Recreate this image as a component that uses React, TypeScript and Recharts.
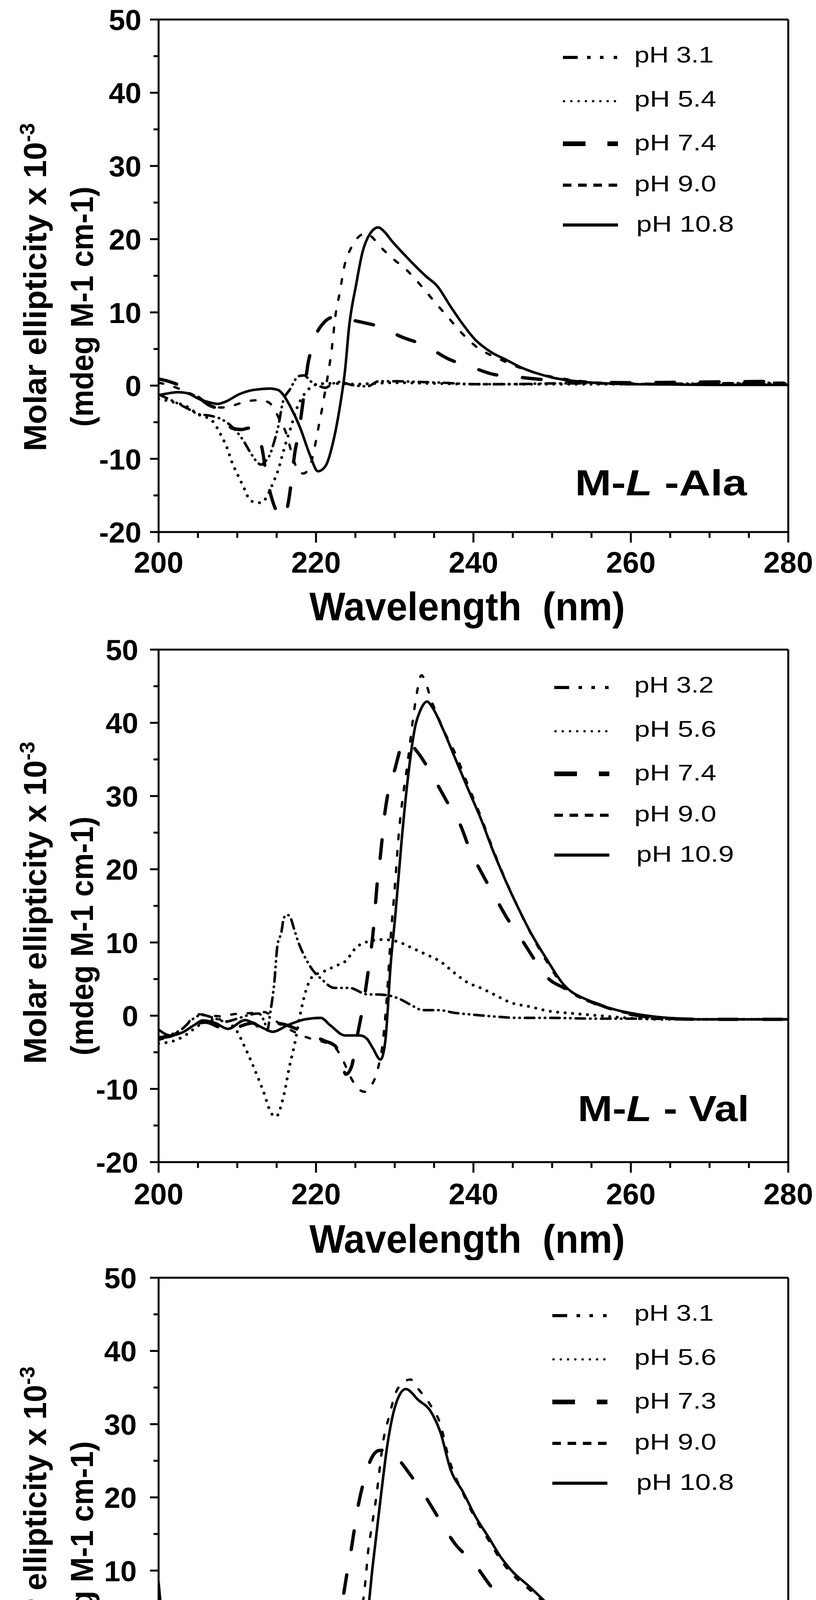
import React from 'react';
import { LineChart, Line, XAxis, YAxis, ReferenceLine } from 'recharts';

type Pt = [number, number];

// ---------- axis ticks ----------
const WAVELENGTH_TICKS = [200, 205, 210, 215, 220, 225, 230, 235, 240, 245, 250, 255, 260, 265, 270, 275, 280];
const WAVELENGTH_LABELS = [200, 220, 240, 260, 280];
const ELLIPTICITY_TICKS = [-20, -15, -10, -5, 0, 5, 10, 15, 20, 25, 30, 35, 40, 45, 50];
const ELLIPTICITY_LABELS = [-20, -10, 0, 10, 20, 30, 40, 50];

// ---------- M-L-Ala ----------
const ALA_LABELS = ['pH 3.1', 'pH 5.4', 'pH 7.4', 'pH 9.0', 'pH 10.8'];
const ALA_PH31: Pt[] = [[200,-1.2],[202,-2.2],[203.8,-3.2],[205.1,-3.9],[206.5,-4.1],[208,-4.6],[209.5,-5.8],[210.7,-7.4],[211.7,-9.2],[212.4,-10.3],[213,-10.8],[213.6,-10.3],[214.2,-9.3],[214.7,-7.6],[215.2,-5.6],[215.8,-2.2],[216.7,-0.5],[217.8,1.3],[218.5,1.4],[219.3,0.6],[220.3,0.0],[221.2,-0.3],[222,0.2],[223,0.5],[224.5,0.1],[226.5,-0.1],[228,0.6],[230,0.6],[233,0.5],[236,0.4],[240,0.2],[245,0.2],[250,0.3],[255,0.3],[260,0.2],[270,0.3],[280,0.4]];
const ALA_PH54: Pt[] = [[200,-1.8],[202,-2.3],[203.5,-2.8],[205,-3.9],[206.8,-4.8],[207.4,-5.7],[207.9,-6.7],[208.7,-8.5],[209.3,-10.4],[210.1,-12.3],[210.9,-14.1],[211.3,-15.1],[212.1,-15.9],[213,-16.0],[213.75,-15.2],[214.5,-13.4],[215.2,-11.5],[215.7,-9.6],[216.2,-7.7],[216.75,-5.9],[217.6,-3.0],[218.5,-1.2],[219.25,-0.3],[220.25,0.2],[222,0.3],[225,0.2],[230,0.4],[235,0.3],[240,0.2],[250,0.2],[260,0.2],[270,0.2],[280,0.3]];
const ALA_PH74: Pt[] = [[200,0.9],[201.5,0.5],[203.3,-0.3],[204.7,-1.3],[206.3,-2.6],[207.7,-3.4],[208.5,-4.6],[209.3,-5.8],[210.5,-6.0],[211.5,-5.8],[212.5,-6.2],[213.2,-8.9],[213.7,-12.3],[214.3,-15.1],[215,-17.2],[215.7,-18.1],[216.2,-17.3],[216.6,-15.2],[217,-11.8],[217.3,-9.2],[217.7,-7.0],[218,-5.0],[218.3,-2.6],[218.7,0.8],[219,3.1],[219.4,4.8],[220,6.9],[221,8.6],[222.2,9.4],[223,9.5],[224,9.1],[225.2,8.8],[227.9,8.1],[231,6.6],[233.8,5.5],[236.9,3.6],[239.6,2.6],[242.7,1.5],[244.5,1.3],[248,0.9],[252,0.6],[256,0.45],[260,0.4],[270,0.5],[280,0.6]];
const ALA_PH90: Pt[] = [[200,0.4],[201.5,0.0],[203,-0.6],[205,-1.6],[206.5,-2.6],[208,-3.0],[209.5,-2.7],[211,-2.2],[212.5,-2.0],[213.8,-2.2],[214.6,-3.0],[215.3,-4.5],[216.3,-6.8],[216.8,-8.8],[217.3,-10.6],[217.8,-11.8],[218.4,-12.0],[219,-11.5],[219.6,-9.6],[220,-7.5],[220.4,-5.2],[220.8,-3.0],[221.2,-0.5],[221.6,2.0],[222,5.0],[222.5,9.8],[223,12.6],[223.6,16.3],[224.5,18.9],[225.5,20.4],[226.3,20.8],[227.2,20.2],[227.9,19.3],[229.6,17.5],[231.6,15.7],[233.3,13.7],[235.1,11.4],[236.8,9.3],[238.5,7.2],[240.5,5.2],[242.5,4.0],[244.2,3.2],[246,2.4],[248,1.7],[250,1.2],[253,0.7],[256,0.4],[260,0.3],[270,0.2],[280,0.2]];
const ALA_PH108: Pt[] = [[200,-1.3],[201,-1.1],[202.4,-0.9],[203.5,-1.0],[205.3,-1.9],[206.5,-2.3],[207.5,-2.5],[208.5,-2.2],[210.2,-1.2],[212,-0.6],[214.2,-0.4],[215.2,-0.6],[215.8,-1.2],[216.8,-3.0],[218,-5.8],[219.2,-9.4],[220.25,-11.7],[221.2,-11.0],[222.2,-7.6],[223,-3.1],[223.7,2.2],[224.2,8.0],[225.1,13.8],[225.9,18.2],[226.9,20.8],[227.9,21.6],[228.7,21.0],[229.6,19.8],[231.3,17.8],[233.9,15.0],[235.4,13.6],[237.1,10.8],[238.5,8.6],[240.2,6.3],[242.2,4.6],[244.2,3.5],[246,2.5],[248,1.7],[250,1.1],[253,0.6],[256,0.35],[260,0.2],[265,0.15],[270,0.1],[275,0.1],[280,0.1]];

// ---------- M-L-Val ----------
const VAL_LABELS = ['pH 3.2', 'pH 5.6', 'pH 7.4', 'pH 9.0', 'pH 10.9'];
const VAL_PH32: Pt[] = [[200,-3.0],[201.5,-2.6],[203,-1.8],[204.3,-0.5],[205.5,0.1],[207,-0.3],[208.5,-0.8],[210,-0.4],[211.5,0.1],[212.7,0.3],[213.5,-1.0],[213.8,-2.0],[214.2,0.5],[214.7,4.5],[215.1,9.6],[215.6,11.4],[215.9,13.3],[216.3,13.8],[216.7,13.5],[217.2,11.9],[217.7,10.2],[218.5,8.2],[219.6,6.2],[220.7,5.0],[222.3,3.8],[224.2,3.8],[226.6,2.9],[227.5,2.9],[229,2.8],[230.7,2.25],[232,1.5],[233.6,0.75],[235.7,0.75],[237.5,0.4],[239.3,0.2],[242.5,-0.1],[245.7,-0.3],[250,-0.3],[255,-0.4],[260,-0.4],[270,-0.5],[280,-0.5]];
const VAL_PH56: Pt[] = [[200,-3.8],[202.3,-3.3],[203.5,-2.6],[205,-1.4],[206.5,-0.6],[207.6,-0.5],[209.6,-1.6],[211,-4.4],[212.3,-7.6],[213.3,-10.3],[214.3,-13.3],[214.9,-13.8],[215.9,-10.9],[216.6,-7.1],[217.3,-3.8],[218,0.2],[218.6,3.0],[219.6,5.4],[220.9,6.0],[222.5,6.8],[223.8,7.5],[225,9.2],[226.9,10.2],[228.5,10.4],[230.4,10.1],[232.3,9.2],[233.9,8.4],[235.8,7.4],[237.4,6.0],[239.3,4.5],[240.9,3.8],[242.8,2.8],[244.7,1.8],[247.3,1.2],[249.2,0.7],[252.8,0.3],[256,0.0],[259.4,-0.3],[264.7,-0.5],[270,-0.5],[280,-0.5]];
const VAL_PH74: Pt[] = [[200,-3.0],[201.5,-2.8],[203,-2.0],[204.5,-1.2],[206,-0.9],[207.5,-1.5],[209,-2.3],[210.5,-1.4],[212,-1.0],[213.3,-2.0],[214.5,-1.0],[216,-1.2],[217.5,-1.8],[219.5,-2.7],[221,-3.4],[222.5,-4.2],[223.2,-6.3],[223.8,-8.0],[224.5,-7.0],[225.2,-3.0],[226,1.5],[226.6,5.8],[227.3,11.9],[227.8,18.4],[228.2,22.0],[228.7,27.3],[229.2,30.7],[230,33.6],[231,37.1],[231.7,37.5],[232.3,36.8],[233.3,35.4],[235.2,32.0],[236.6,29.3],[238.4,25.9],[239.5,22.8],[241.1,19.4],[242.5,16.7],[244.4,13.1],[246,10.6],[248.3,6.8],[249.5,5.1],[251.5,3.8],[254,2.3],[256,1.5],[258,0.7],[261,0.0],[265,-0.4],[270,-0.5],[280,-0.5]];
const VAL_PH90: Pt[] = [[200,-3.3],[201.5,-2.8],[203,-2.0],[204.3,-0.3],[205.1,0.2],[206.8,0.0],[208.2,-0.1],[209.5,0.2],[211,0.3],[212.3,0.4],[213.3,0.5],[214.2,0.1],[215.2,-1.0],[216.5,-1.8],[218,-2.6],[219.5,-3.2],[221,-3.6],[222.3,-4.2],[223.3,-5.8],[224.3,-8.2],[225.3,-9.9],[226.2,-10.4],[227,-9.6],[227.8,-7.5],[228.5,-3.5],[229,2.5],[229.5,10.9],[230,17.4],[230.5,24.6],[231.3,32.0],[231.6,34.2],[232.2,39.5],[232.8,44.0],[233.4,46.5],[234,45.3],[234.6,43.2],[235.2,41.6],[236.3,38.8],[237.7,35.8],[239.3,31.5],[240.9,27.3],[242.5,22.7],[244.1,18.5],[245.7,14.7],[247.3,11.2],[249.2,7.6],[251.5,4.0],[254.8,1.9],[258.1,0.7],[261.4,0.0],[264.7,-0.3],[270,-0.5],[280,-0.5]];
const VAL_PH109: Pt[] = [[200,-1.9],[201.5,-2.7],[203,-2.3],[204.5,-1.3],[205.6,-0.65],[207.2,-1.0],[208.8,-1.8],[211,-0.6],[212.3,-1.15],[213.5,-1.8],[214.5,-2.2],[216.4,-1.3],[218.6,-0.5],[220.6,-0.3],[221.8,-1.3],[223.7,-2.7],[225.6,-2.7],[226.5,-3.2],[227.2,-4.4],[228.2,-6.0],[228.8,-3.5],[229.5,7.2],[230.1,14.0],[230.9,24.2],[231.7,32.7],[232.6,39.5],[233.3,41.8],[234.1,42.9],[234.9,41.9],[236.1,39.2],[237.7,35.1],[239.3,31.0],[240.9,27.0],[242.5,22.5],[244.1,18.4],[245.7,14.7],[247.3,11.3],[249.2,7.9],[251.5,4.2],[254.8,2.0],[258.1,0.8],[261.4,0.1],[264.7,-0.3],[269.4,-0.5],[275,-0.5],[280,-0.5]];

// ---------- M-L-Leu ----------
const LEU_LABELS = ['pH 3.1', 'pH 5.6', 'pH 7.3', 'pH 9.0', 'pH 10.8'];
const LEU_PH31: Pt[] = [[200,-1.6],[201,-1.7],[202.5,-2.5],[204,-2.0],[206,-1.0],[207.5,-1.5],[209,-2.6],[210,-5.9],[210.7,-7.1],[211.6,-9.9],[212.3,-12.7],[213.2,-14.6],[214.3,-15.4],[215,-14.6],[215.5,-12.9],[216.1,-10.8],[216.7,-8.0],[217.4,-5.6],[217.7,-4.4],[218.3,-3.0],[219,-1.7],[219.9,-0.6],[220.7,0.2],[222,0.4],[224,0.8],[226,1.1],[227.2,1.4],[228.8,1.6],[230.7,1.1],[232.3,0.65],[233.9,0.5],[235.5,0.3],[238.7,0.2],[241,0.0],[244,-0.1],[246,-0.1],[250,-0.2],[255,-0.3],[260,-0.4],[265,-0.6],[270,-0.7],[275,-0.8],[280,-0.8]];
const LEU_PH56: Pt[] = [[200,-3.2],[201,-3.2],[202.5,-2.8],[204,-2.2],[205.5,-1.8],[206.9,-1.65],[208.1,-2.6],[209.1,-3.5],[210.4,-3.9],[211.6,-4.4],[212.9,-4.85],[214.2,-5.0],[215.5,-4.7],[216.7,-3.8],[218,-2.6],[219.3,-1.0],[220.6,1.1],[221.8,2.3],[223.1,2.9],[225,3.1],[227.5,2.8],[230.1,2.6],[233,2.2],[236.1,1.4],[239.3,0.8],[242.5,0.35],[245.7,0.2],[249.2,-0.1],[255,-0.2],[260,-0.2],[270,-0.4],[280,-0.5]];
const LEU_PH73: Pt[] = [[200,4.0],[200.8,-0.5],[201.5,-1.7],[202.5,-2.8],[203.5,-3.3],[204.5,-3.0],[205.3,-3.3],[207.2,-2.2],[208.5,-1.8],[210,-1.0],[212,-0.4],[213.5,-1.0],[214.5,-1.7],[215.5,-4.5],[216.3,-6.2],[217.1,-7.8],[218.5,-8.8],[219.9,-9.3],[220.9,-7.1],[221.7,-3.2],[222.3,-0.1],[223,2.9],[223.4,6.0],[223.9,9.4],[224.4,12.4],[224.9,15.8],[225.3,18.5],[226,21.9],[226.9,25.0],[228,26.4],[229.4,26.5],[230.5,25.2],[231.7,23.5],[233.9,20.1],[235.5,17.3],[237.7,13.6],[240,11.1],[242.5,7.5],[245.1,5.2],[248.2,3.25],[249.4,2.5],[251,1.8],[254.3,0.9],[257,0.1],[260,-0.2],[265,-0.3],[270,-0.4],[280,-0.5]];
const LEU_PH90: Pt[] = [[200,5.0],[200.8,0.5],[201.5,-1.0],[203,-2.9],[203.7,-3.5],[204.9,-1.3],[205.4,-0.9],[206.5,-1.2],[208,-1.8],[210,-1.0],[212,-0.4],[213.5,-1.0],[215,-1.8],[216.5,-2.0],[218,-2.2],[219.2,-3.0],[220.3,-5.6],[220.6,-6.9],[221.5,-9.6],[221.8,-10.8],[222.8,-11.4],[223.3,-10.5],[224,-7.8],[224.4,-5.9],[224.9,-3.5],[225.3,0.2],[225.9,5.1],[226.3,8.8],[226.6,12.4],[227.1,16.1],[227.7,20.4],[228.1,24.0],[228.5,27.4],[229.3,31.1],[230.1,34.2],[231,35.6],[232,36.1],[233,34.8],[234.6,32.5],[235.8,30.0],[236.8,25.6],[238.7,20.5],[240.3,17.0],[241.9,14.2],[243.5,11.4],[245.1,9.3],[246.7,7.8],[248.6,6.0],[250.3,4.2],[253,2.5],[256.3,1.1],[259.6,0.4],[263.6,0.1],[270,0.0],[280,-0.1]];
const LEU_PH108: Pt[] = [[200,8.4],[200.5,2.9],[201.5,-1.65],[202.7,-4.7],[203.5,-4.6],[204.3,-4.1],[205.9,-2.9],[207.8,-1.95],[209.1,-1.65],[210.7,-0.7],[212,-0.3],[213.2,-0.7],[214.5,-1.65],[216.1,-2.9],[217.7,-2.4],[219,-1.3],[219.9,-1.8],[220.7,-4.1],[221.8,-4.4],[223.1,-5.0],[224.4,-5.5],[225.3,-4.7],[225.8,-2.0],[226.3,1.4],[227.2,10.6],[228.2,19.8],[229.1,27.4],[230.1,32.6],[231.4,34.8],[233,33.3],[234.6,31.7],[235.8,28.9],[237.1,23.8],[238.7,20.7],[240.3,17.3],[241.9,14.6],[243.5,11.8],[245.1,9.7],[246.7,8.2],[248.6,6.3],[250.3,4.5],[253,2.8],[256.3,1.4],[259.6,0.6],[263.6,0.3],[270,0.1],[280,0.0]];

// ---------- styles ----------
const LINE_STYLES = [
  { w: 6.5, dash: '24 13 1 13 1 13', cap: 'round', lw: 8, ldash: '38 24 9 24 9 26 9 300', lcap: 'butt' },
  { w: 7.5, dash: '0.1 19', cap: 'round', lw: 6, ldash: '0.1 18.5', lcap: 'round' },
  { w: 8.5, dash: '48 66', cap: 'round', lw: 12, ldash: '58 56 27 300', lcap: 'butt' },
  { w: 6, dash: '12 30', cap: 'round', lw: 8, ldash: '22 17', lcap: 'butt' },
  { w: 6.5, dash: undefined, cap: 'round', lw: 8, ldash: undefined, lcap: 'butt' },
];

const LEGEND_LINE_Y = [147, 259, 368, 474, 576];
const LEGEND_TEXT_Y = [160, 273, 385, 490, 593];
const LEGEND_TEXT_LEN = [203, 210, 210, 210, 250];

const PANELS = [
  { top: 0, series: [ALA_PH31, ALA_PH54, ALA_PH74, ALA_PH90, ALA_PH108], labels: ALA_LABELS, tag: ['M-', 'L', ' -Ala'], tagX: 1472, tagY: 1268, tagLen: 440, xTitleY: 1588, xGap: 50, yRight: 362, t1c: 735, t1len: 840, t2c: 785, t2len: 615, legX: 1441 },
  { top: 1613, series: [VAL_PH32, VAL_PH56, VAL_PH74, VAL_PH90, VAL_PH109], labels: VAL_LABELS, tag: ['M-', 'L', ' - Val'], tagX: 1479, tagY: 1257, tagLen: 439, xTitleY: 1594, xGap: 54, yRight: 354, t1c: 698, t1len: 825, t2c: 783, t2len: 612, legX: 1419 },
  { top: 3221, series: [LEU_PH31, LEU_PH56, LEU_PH73, LEU_PH90, LEU_PH108], labels: LEU_LABELS, tag: ['M-', 'L', ' - Leu'], tagX: 1485, tagY: 1268, tagLen: 453, xTitleY: 1579, xGap: 36, yRight: 350, t1c: 682, t1len: 810, t2c: 776, t2len: 615, legX: 1414 },
];

const W = 2089;
const H = 1613;
const BOLD = '"Liberation Sans", Arial, sans-serif';

const toRows = (pts: Pt[]) => pts.map(([x, y]) => ({ x, y }));

function XTick(props: any) {
  const { x, y, payload, gap } = props;
  const v = payload.value;
  const major = WAVELENGTH_LABELS.includes(v);
  return (
    <g>
      <line x1={x} y1={y} x2={x} y2={y + (major ? 27 : 15)} stroke="#000" strokeWidth={5} />
      {major && (
        <text x={x} y={y + gap + 54} textAnchor="middle" fontFamily={BOLD} fontWeight="bold" fontSize={76} fill="#000">
          {v}
        </text>
      )}
    </g>
  );
}

function YTick(props: any) {
  const { x, y, payload, right } = props;
  const v = payload.value;
  const major = ELLIPTICITY_LABELS.includes(v);
  return (
    <g>
      <line x1={x} y1={y} x2={x - (major ? 22 : 13)} y2={y} stroke="#000" strokeWidth={5} />
      {major && (
        <text x={right} y={y + 27} textAnchor="end" fontFamily={BOLD} fontWeight="bold" fontSize={75} fill="#000">
          {v}
        </text>
      )}
    </g>
  );
}

function Panel({ cfg }: { cfg: any }) {
  return (
    <div style={{ position: 'absolute', left: 0, top: cfg.top, width: W, height: H }}>
      <LineChart width={W} height={H} margin={{ top: 50, right: 71, bottom: 151, left: 256 }}>
        <XAxis
          type="number"
          dataKey="x"
          domain={[200, 280]}
          ticks={WAVELENGTH_TICKS}
          interval={0}
          allowDataOverflow
          height={100}
          tickSize={0}
          tickMargin={0}
          tickLine={false}
          axisLine={{ stroke: '#000', strokeWidth: 5 }}
          tick={(p: any) => <XTick {...p} gap={cfg.xGap} />}
        />
        <YAxis
          type="number"
          domain={[-20, 50]}
          ticks={ELLIPTICITY_TICKS}
          interval={0}
          allowDataOverflow
          width={150}
          tickSize={0}
          tickMargin={0}
          tickLine={false}
          axisLine={{ stroke: '#000', strokeWidth: 5 }}
          tick={(p: any) => <YTick {...p} right={cfg.yRight} />}
        />
        <ReferenceLine y={50} stroke="#000" strokeWidth={5} />
        <ReferenceLine x={280} stroke="#000" strokeWidth={5} />
        {cfg.series.map((s: Pt[], i: number) => (
          <Line
            key={i}
            data={toRows(s)}
            dataKey="y"
            name={cfg.labels[i]}
            type="monotone"
            stroke="#000"
            strokeWidth={LINE_STYLES[i].w}
            strokeDasharray={LINE_STYLES[i].dash}
            strokeLinecap={LINE_STYLES[i].cap as any}
            strokeLinejoin="round"
            dot={false}
            activeDot={false}
            isAnimationActive={false}
          />
        ))}
      </LineChart>
      <svg width={W} height={H} style={{ position: 'absolute', left: 0, top: 0, pointerEvents: 'none' }}>
        {/* y axis title */}
        <text
          transform={`translate(118, ${cfg.t1c}) rotate(-90)`}
          textAnchor="middle"
          fontFamily={BOLD}
          fontWeight="bold"
          fontSize={82}
          textLength={cfg.t1len}
          lengthAdjust="spacingAndGlyphs"
          fill="#000"
        >
          Molar ellipticity x 10<tspan dy={-30} fontSize={54}>-3</tspan>
        </text>
        <text
          transform={`translate(238, ${cfg.t2c}) rotate(-90)`}
          textAnchor="middle"
          fontFamily={BOLD}
          fontWeight="bold"
          fontSize={82}
          textLength={cfg.t2len}
          lengthAdjust="spacingAndGlyphs"
          fill="#000"
        >
          (mdeg M-1 cm-1)
        </text>
        {/* x axis title */}
        <text
          x={792}
          y={cfg.xTitleY}
          fontFamily={BOLD}
          fontWeight="bold"
          fontSize={102}
          textLength={808}
          lengthAdjust="spacingAndGlyphs"
          fill="#000"
        >
          {'Wavelength\u00A0\u00A0(nm)'}
        </text>
        {/* panel tag */}
        <text
          x={cfg.tagX}
          y={cfg.tagY}
          fontFamily={BOLD}
          fontWeight="bold"
          fontSize={92}
          textLength={cfg.tagLen}
          lengthAdjust="spacingAndGlyphs"
          fill="#000"
        >
          {cfg.tag[0]}
          <tspan fontStyle="italic">{cfg.tag[1]}</tspan>
          {cfg.tag[2].replace(/ /g, '\u00A0')}
        </text>
        {/* legend */}
        {cfg.labels.map((lab: string, i: number) => (
          <g key={lab}>
            <line
              x1={cfg.legX + (i === 1 ? 3 : 0)}
              x2={cfg.legX + 141}
              y1={LEGEND_LINE_Y[i]}
              y2={LEGEND_LINE_Y[i]}
              stroke="#000"
              strokeWidth={LINE_STYLES[i].lw}
              strokeDasharray={LINE_STYLES[i].ldash}
              strokeLinecap={LINE_STYLES[i].lcap as any}
            />
            <text
              x={i === 4 ? 1629 : 1624}
              y={LEGEND_TEXT_Y[i]}
              fontFamily={BOLD}
              fontSize={57}
              textLength={LEGEND_TEXT_LEN[i]}
              lengthAdjust="spacingAndGlyphs"
              fill="#000"
            >
              {lab}
            </text>
          </g>
        ))}
      </svg>
    </div>
  );
}

export default function App() {
  return (
    <div style={{ position: 'relative', width: W, height: 4846, background: '#fff' }}>
      <style>{'body{margin:0;background:#fff}'}</style>
      {PANELS.map((cfg, i) => (
        <Panel key={i} cfg={cfg} />
      ))}
    </div>
  );
}
